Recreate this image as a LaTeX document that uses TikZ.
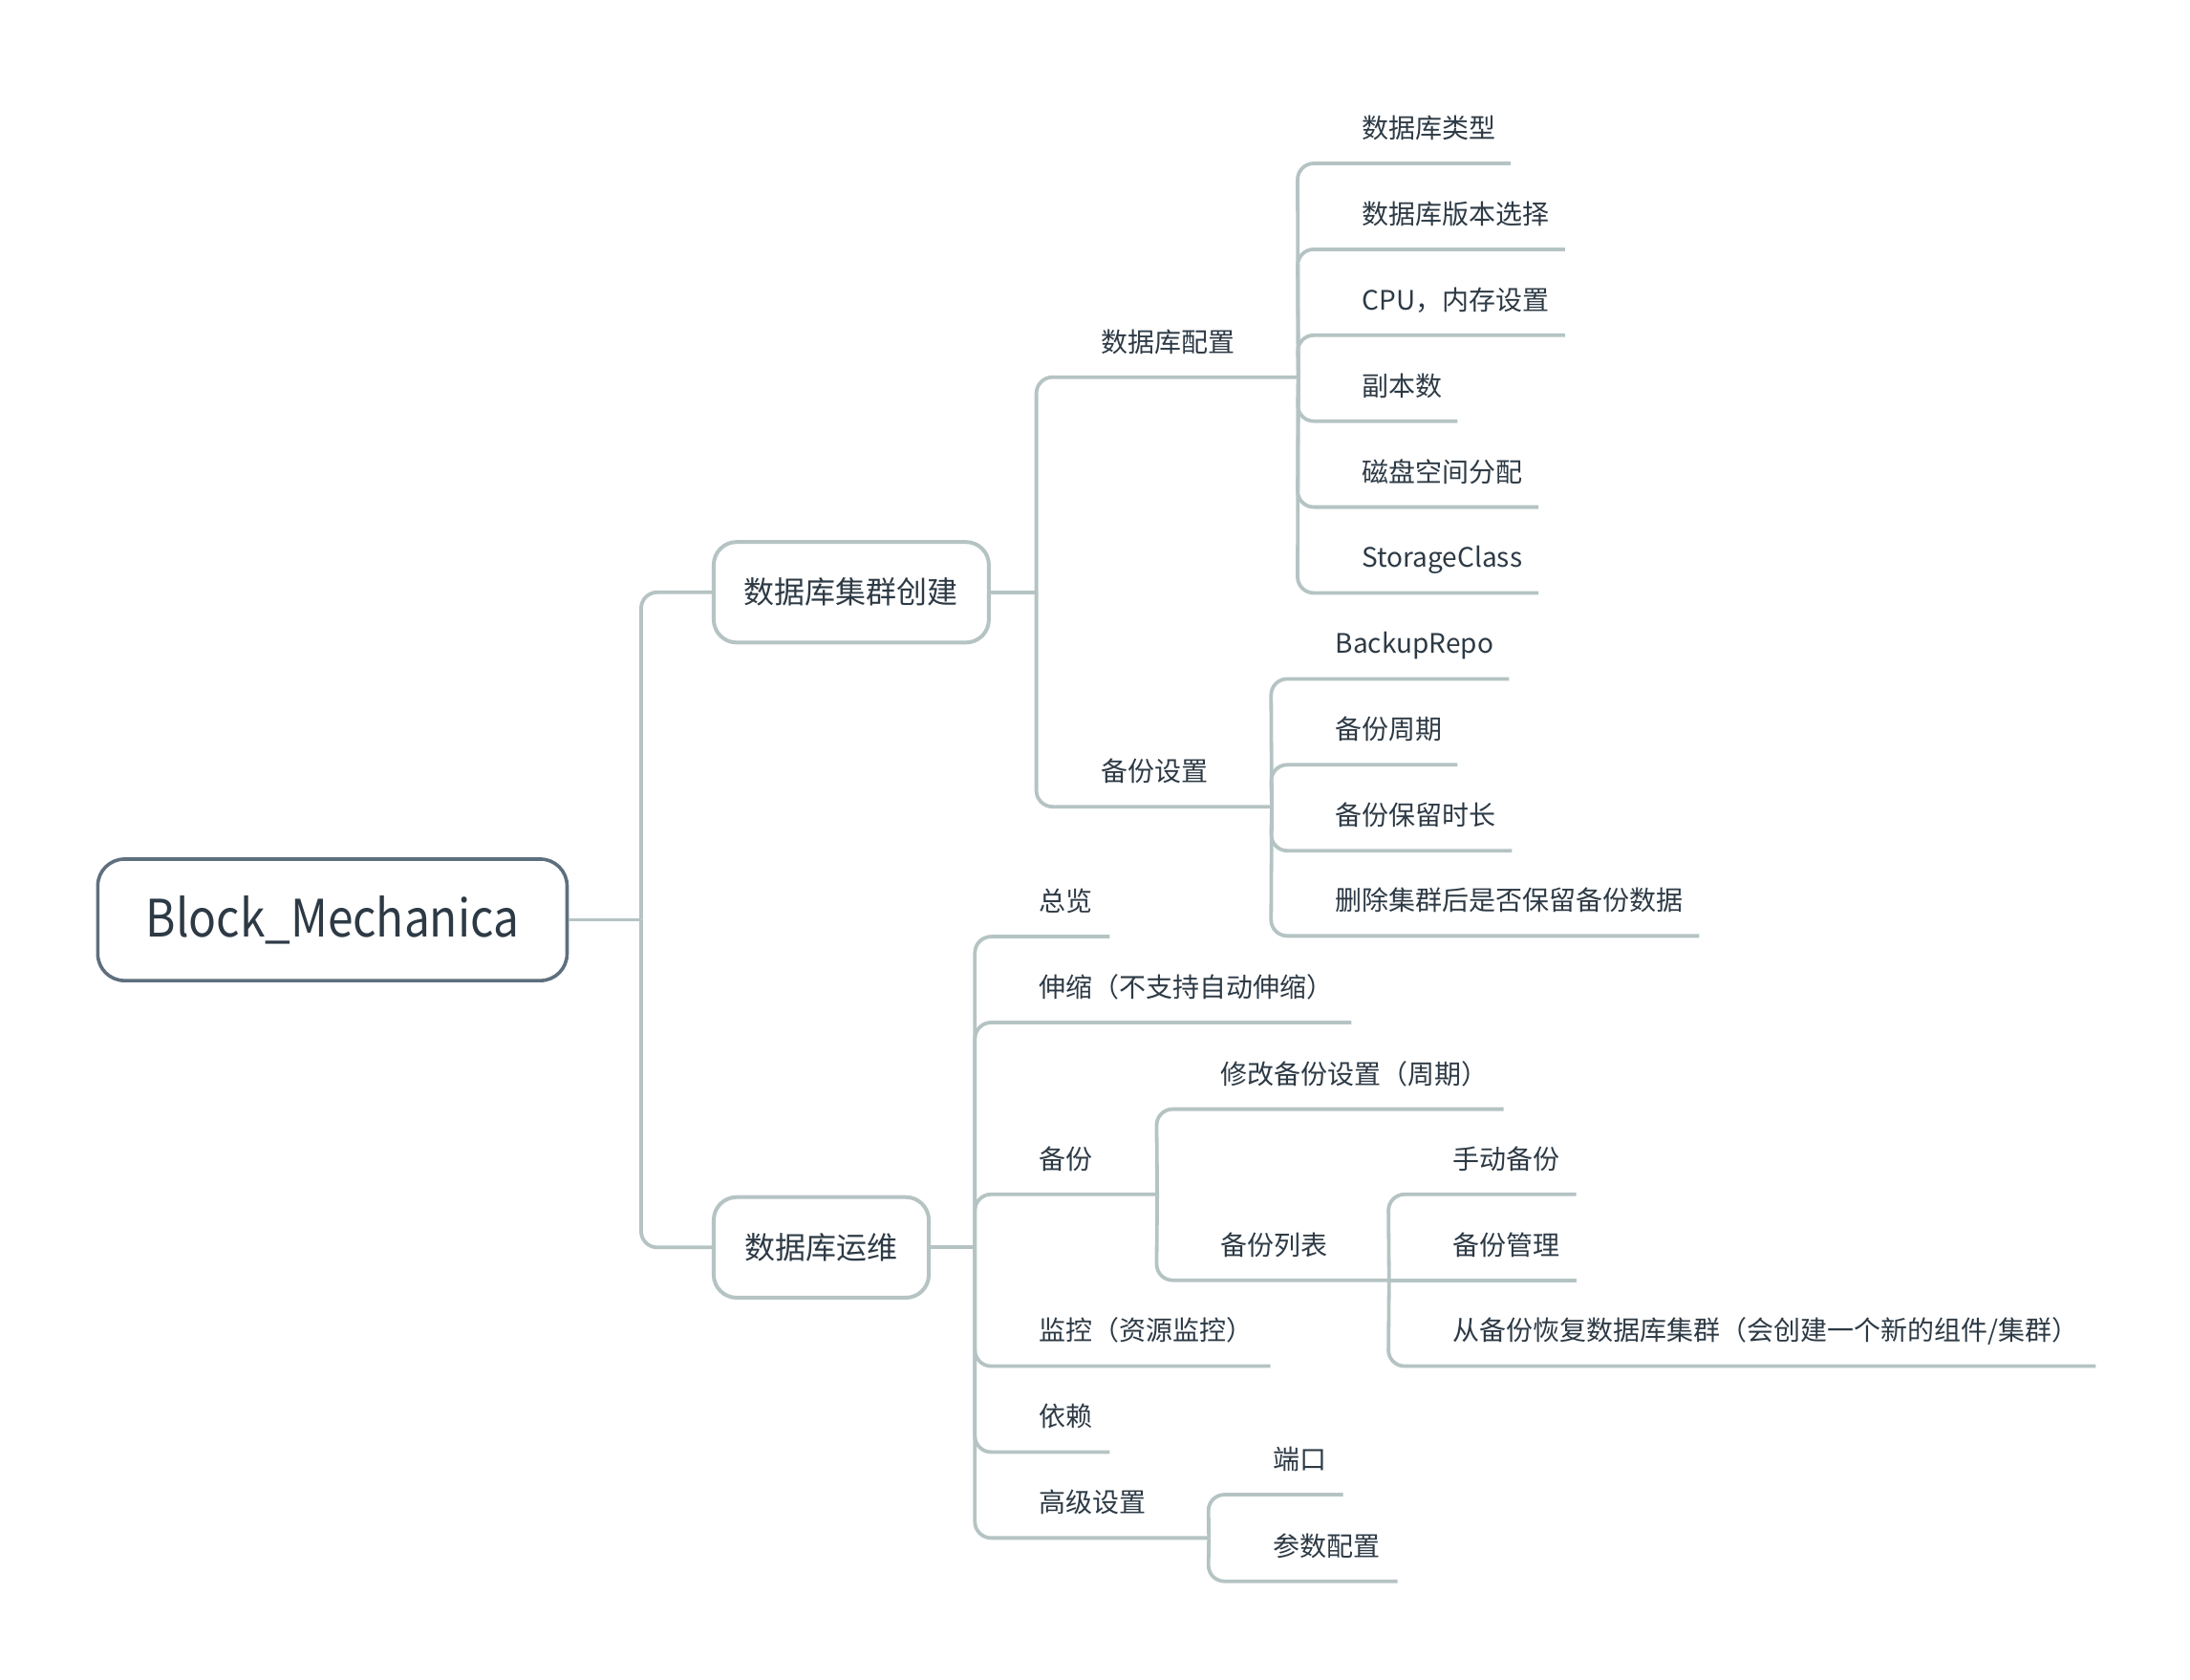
\documentclass[tikz,border=0pt]{standalone}
\usepackage{graphicx}
\usepackage{fontspec}
\setmainfont{Noto Sans CJK SC}
\definecolor{lineC}{RGB}{181,195,195}
\definecolor{rootC}{RGB}{94,111,126}
\definecolor{textC}{RGB}{45,58,69}
\newdimen\mmu \mmu=0.7309pt
\newcommand\itm[2]{\makebox[#1\mmu][l]{\hspace{46\mmu}#2}}
\begin{document}
\begin{tikzpicture}[x=0.7309pt,y=-0.7309pt,
  conn/.style={draw=lineC,line width=1.9pt,rounded corners=8.5pt},
  item/.style={anchor=south west,inner sep=0pt,text=textC,font=\fontsize{14pt}{16pt}\selectfont,text depth=13.1pt},
  boxnode/.style={draw=lineC,line width=2pt,rounded corners=12pt,fill=white,text=textC,inner sep=0pt,
    minimum height=72*0.7309pt,font=\fontsize{16pt}{18pt}\selectfont},
  rootnode/.style={draw=rootC,line width=1.8pt,rounded corners=14pt,fill=white,text=textC,inner sep=0pt,
    minimum width=336*0.7309pt,minimum height=87*0.7309pt,font=\fontsize{27pt}{30pt}\selectfont}]
\useasboundingbox (0,0) rectangle (1568,1202);
% main nodes
\node[rootnode] (root) at (238,658.5) {\scalebox{0.886}[1]{Block\_Mechanica}};
\node[boxnode,minimum width=197*0.7309pt] (b1) at (609.5,424) {数据库集群创建};
\node[boxnode,minimum width=154*0.7309pt] (b2) at (588,893) {数据库运维};
\coordinate (jr) at (459,658.5);
\coordinate (j1) at (742,424);
\coordinate (j2) at (698,893);
% level 2 under b1
\node[item] (cfg) at (742,270) {\itm{187}{数据库配置}};
\node[item] (bak) at (742,577.5) {\itm{168}{备份设置}};
% cfg children
\node[item] (c1) at (929,117) {\itm{152}{数据库类型}};
\node[item] (c2) at (929,178.5) {\itm{191}{数据库版本选择}};
\node[item] (c3) at (929,240) {\itm{191}{CPU，内存设置}};
\node[item] (c4) at (929,301.5) {\itm{114}{副本数}};
\node[item] (c5) at (929,363) {\itm{172}{磁盘空间分配}};
\node[item] (c6) at (929,424.5) {\itm{172}{StorageClass}};
% bak children
\node[item] (k1) at (910,486) {\itm{170}{BackupRepo}};
\node[item] (k2) at (910,547.5) {\itm{133}{备份周期}};
\node[item] (k3) at (910,609) {\itm{172}{备份保留时长}};
\node[item] (k4) at (910,670) {\itm{306}{删除集群后是否保留备份数据}};
% ops children
\node[item] (o1) at (698,670.5) {\itm{96}{总览}};
\node[item] (o2) at (698,732) {\itm{269}{伸缩（不支持自动伸缩）}};
\node[item] (o3) at (698,855) {\itm{130}{备份}};
\node[item] (o4) at (698,978) {\itm{211}{监控（资源监控）}};
\node[item] (o5) at (698,1039.5) {\itm{96}{依赖}};
\node[item] (o6) at (698,1101) {\itm{167}{高级设置}};
% backup children
\node[item] (p1) at (828,794) {\itm{248}{修改备份设置（周期）}};
\node[item] (p2) at (828,916.5) {\itm{166}{备份列表}};
% backup list children
\node[item] (q1) at (994,855) {\itm{134}{手动备份}};
\node[item] (q2) at (994,916.5) {\itm{134}{备份管理}};
\node[item] (q3) at (994,978) {\itm{506}{从备份恢复数据库集群（会创建一个新的组件/集群）}};
% advanced children
\node[item] (r1) at (865,1070) {\itm{96}{端口}};
\node[item] (r2) at (865,1132) {\itm{135}{参数配置}};
% connectors
\draw[conn] (root.east) -- (jr);
\draw[conn] (jr) -- (jr |- b1.west) -- (b1.west);
\draw[conn] (jr) -- (jr |- b2.west) -- (b2.west);
\draw[conn] (b1.east) -- (j1);
\draw[conn] (b2.east) -- (j2);
\foreach \c in {cfg,bak} \draw[conn] (j1) -- (\c.south west) -- (\c.south east);
\foreach \c in {c1,c2,c3,c4,c5,c6} \draw[conn] (cfg.south east) -- (\c.south west) -- (\c.south east);
\foreach \c in {k1,k2,k3,k4} \draw[conn] (bak.south east) -- (\c.south west) -- (\c.south east);
\foreach \c in {o1,o2,o3,o4,o5,o6} \draw[conn] (j2) -- (\c.south west) -- (\c.south east);
\foreach \c in {p1,p2} \draw[conn] (o3.south east) -- (\c.south west) -- (\c.south east);
\foreach \c in {q1,q2,q3} \draw[conn] (p2.south east) -- (\c.south west) -- (\c.south east);
\foreach \c in {r1,r2} \draw[conn] (o6.south east) -- (\c.south west) -- (\c.south east);
\end{tikzpicture}
\end{document}
